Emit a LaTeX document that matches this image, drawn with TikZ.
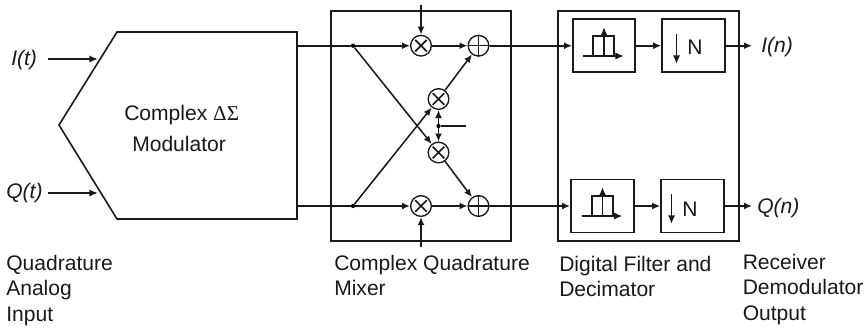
\documentclass[tikz,border=0pt]{standalone}
\usepackage{fontspec}
\setmainfont{Liberation Sans}
\newfontfamily\grk{Liberation Serif}
\usetikzlibrary{arrows.meta}
\tikzset{
  x=0.75pt,y=-0.75pt,
  wire/.style={line width=1.4pt,draw=black!90,line cap=butt},
  diag/.style={line width=1.15pt,draw=black!90,-{Latex[length=6pt,width=5.2pt]}},
  arr/.style={wire,-{Latex[length=6pt,width=5.2pt]}},
  thin arr/.style={line width=1.3pt,draw=black!90,-{Latex[length=6.5pt,width=5.5pt]}},
  frame/.style={draw=black!90,line width=1.4pt,inner sep=0pt},
  op/.style={circle,draw=black!90,line width=1pt,minimum size=15.5pt,inner sep=0pt},
  dot/.style={circle,fill=black,inner sep=0pt,minimum size=3.2pt},
  txt/.style={font=\fontsize{15.8pt}{18pt}\selectfont,inner sep=0pt,text=black!90,anchor=base west},
  ital/.style={txt,font=\fontsize{15.8pt}{18pt}\selectfont\itshape}
}
\newcommand{\tms}[1]{\draw[line width=1.3pt,black!90] (#1) ++(-5.8,-5.8)--++(11.6,11.6) (#1) ++(5.8,-5.8)--++(-11.6,11.6);}
\newcommand{\pls}[1]{\draw[line width=1pt,black!90] (#1.0)--(#1.180) (#1.90)--(#1.270);}
\begin{document}
\begin{tikzpicture}
\useasboundingbox (0,0) rectangle (867,329);
% Modulator
\draw[line width=1.2pt,draw=black!90] (117,32)--(297,32)--(297,219)--(117,219)--(59,125)--cycle;
\coordinate (modi) at (98,59);
\coordinate (modq) at (98,193);
\coordinate (modt) at (297,45.7);
\coordinate (modb) at (297,206);
\node[ital] (it) at (11,65) {I(t)};
\node[ital] (qt) at (6,198) {Q(t)};
\coordinate (its) at (48,59);
\coordinate (qts) at (48,193);
\draw[thin arr] (its)--(modi);
\draw[thin arr] (qts)--(modq);
\node[txt] (m1) at (124,120) {Complex {\grk ΔΣ}};
\node[txt] (m2) at (132,151) {Modulator};
% boxes
\node[frame,minimum width=135pt,minimum height=172.5pt] (mix) at (421,126) {};
\node[frame,minimum width=135.75pt,minimum height=172.5pt] (dec) at (648.5,126) {};
% ops
\node[op] (m1x) at (421,45.7) {};
\node[op] (m2x) at (438.5,99) {};
\node[op] (m3x) at (438.5,152.5) {};
\node[op] (m4x) at (421,206) {};
\node[op] (a1) at (478.5,45.7) {};
\node[op] (a2) at (478.5,206) {};
\tms{m1x}\tms{m2x}\tms{m3x}\tms{m4x}\pls{a1}\pls{a2}
\node[dot] (j1) at (353,45.7) {};
\node[dot] (j2) at (353,206) {};
\node[dot] (j3) at (438.5,126) {};
\coordinate (lo) at (466,126);
\coordinate (top) at (421,4.5);
\coordinate (bot) at (421,247);
\draw[wire] (modt)--(j1);
\draw[wire] (modb)--(j2);
\draw[arr] (j1)--(m1x);
\draw[arr] (j2)--(m4x);
\draw[arr] (top)--(m1x);
\draw[arr] (bot)--(m4x);
\draw[arr] (m1x)--(a1);
\draw[arr] (m4x)--(a2);
\draw[diag] (j1)--(m3x);
\draw[diag] (j2)--(m2x);
\draw[diag] (m2x)--(a1);
\draw[diag] (m3x)--(a2);
\draw[wire] (j3)--(lo);
\draw[diag] (j3)--(m2x);
\draw[diag] (j3)--(m3x);
% filter and N boxes
\node[frame,minimum width=46.5pt,minimum height=39.75pt] (f1) at (604,45.7) {};
\node[frame,minimum width=47.25pt,minimum height=39.75pt] (f2) at (602.5,206) {};
\node[frame,line width=1.2pt,minimum width=47.25pt,minimum height=39.75pt] (n1) at (693.5,45.7) {};
\node[frame,line width=1.2pt,minimum width=47.25pt,minimum height=39.75pt] (n2) at (692.5,206) {};
\draw[arr] (a1)--(f1);
\draw[arr] (a2)--(f2);
\draw[arr] (f1)--(n1);
\draw[arr] (f2)--(n2);
\coordinate (o1) at (752,45.7);
\coordinate (o2) at (752,206);
\draw[arr] (n1)--(o1);
\draw[arr] (n2)--(o2);
% filter icons
\draw[line width=1.1pt,black!90] (593,56)--(593,36)--(614,36)--(614,56);
\draw[thin arr] (583,56)--(624,56);
\draw[thin arr] (604,56)--(604,27);
\draw[line width=1.1pt,black!90] (592,216)--(592,196)--(613,196)--(613,216);
\draw[thin arr] (581.5,216)--(622.5,216);
\draw[thin arr] (602.5,216)--(602.5,187);
% N
\draw[thin arr] (676.5,34)--(676.5,64);
\node[txt,anchor=base] (n1t) at (695,54) {N};
\draw[thin arr] (671.5,194)--(671.5,224);
\node[txt,anchor=base] (n2t) at (690,216) {N};
\node[ital] (in) at (761,52.5) {I(n)};
\node[ital] (qn) at (757,213) {Q(n)};
% captions
\node[txt] (c1) at (6,270) {Quadrature};
\node[txt] (c2) at (6,295) {Analog};
\node[txt] (c3) at (6,321) {Input};
\node[txt] (c4) at (334,270) {Complex Quadrature};
\node[txt] (c5) at (334,295) {Mixer};
\node[txt] (c6) at (559,271) {Digital Filter and};
\node[txt] (c7) at (559,296) {Decimator};
\node[txt] (c8) at (742.5,269) {Receiver};
\node[txt] (c9) at (742.5,294) {Demodulator};
\node[txt] (c10) at (742.5,320) {Output};
\end{tikzpicture}
\end{document}
